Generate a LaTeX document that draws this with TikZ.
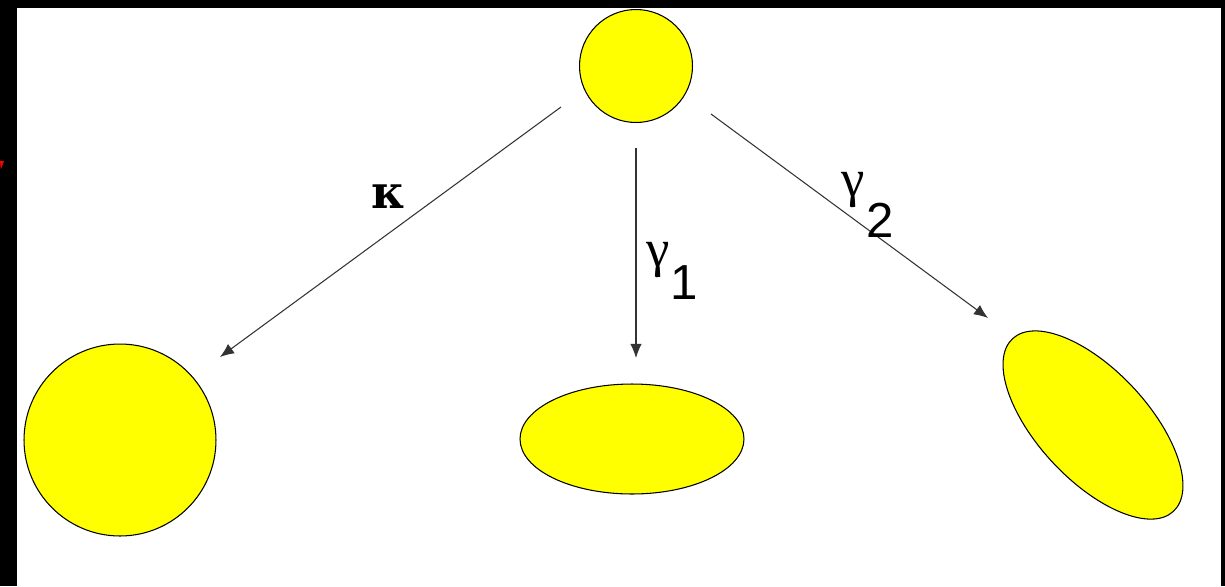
\documentclass[tikz,border=0pt]{standalone}
\usepackage{fontspec}
\setmainfont{Liberation Serif}
\newfontfamily\lsans{Liberation Sans}
\newfontfamily\dserif{DejaVu Serif}
\usetikzlibrary{shapes.geometric,arrows.meta}
\definecolor{pureyellow}{RGB}{255,255,0}
\tikzset{
  blob/.style={draw=black, line width=0.6pt, fill=pureyellow, inner sep=0pt},
  conn/.style={draw=black!80, line width=0.6pt, -{Latex[length=8pt,width=6.5pt]}},
  greek/.style={font=\fontsize{30}{30}\selectfont, inner sep=0pt},
  kap/.style={font=\dserif\bfseries\fontsize{26}{26}\selectfont, inner sep=0pt},
  sub/.style={font=\lsans\fontsize{28}{28}\selectfont, inner sep=0pt}
}
\begin{document}
\begin{tikzpicture}[x=0.02cm,y=-0.02cm]
\useasboundingbox (0,0) rectangle (1225,586);
\fill[white] (0,0) rectangle (1225,586);
% black frame strips
\fill[black] (0,0) rectangle (1225,8);
\fill[black] (0,0) rectangle (17,586);
\fill[black] (1221,0) rectangle (1225,586);
\fill[red] (0,161) -- (4,161) -- (1,169) -- cycle;
% shapes
\node[blob, circle, minimum size=2.26cm] (top) at (636,66) {};
\node[blob, circle, minimum size=3.84cm] (left) at (120,440) {};
\node[blob, ellipse, minimum width=4.48cm, minimum height=2.2cm] (mid) at (632,439) {};
\node[blob, ellipse, minimum width=4.72cm, minimum height=2.2cm, rotate=-47] (right) at (1093,425) {};
% connector ends
\coordinate (s1) at (561,107);
\coordinate (e1) at (220,357);
\coordinate (s2) at (636,148);
\coordinate (e2) at (636,358);
\coordinate (s3) at (711,114);
\coordinate (e3) at (988,318);
\draw[conn] (s1) -- (e1);
\draw[conn] (s2) -- (e2);
\draw[conn] (s3) -- (e3);
% labels
\node[kap] (kappa) at (389,197) {κ};
\node[greek] (g1) at (658,260) {γ};
\node[sub] (n1) at (684,283) {1};
\node[greek] (g2) at (853,190) {γ};
\node[sub] (n2) at (880,220) {2};
\end{tikzpicture}
\end{document}
